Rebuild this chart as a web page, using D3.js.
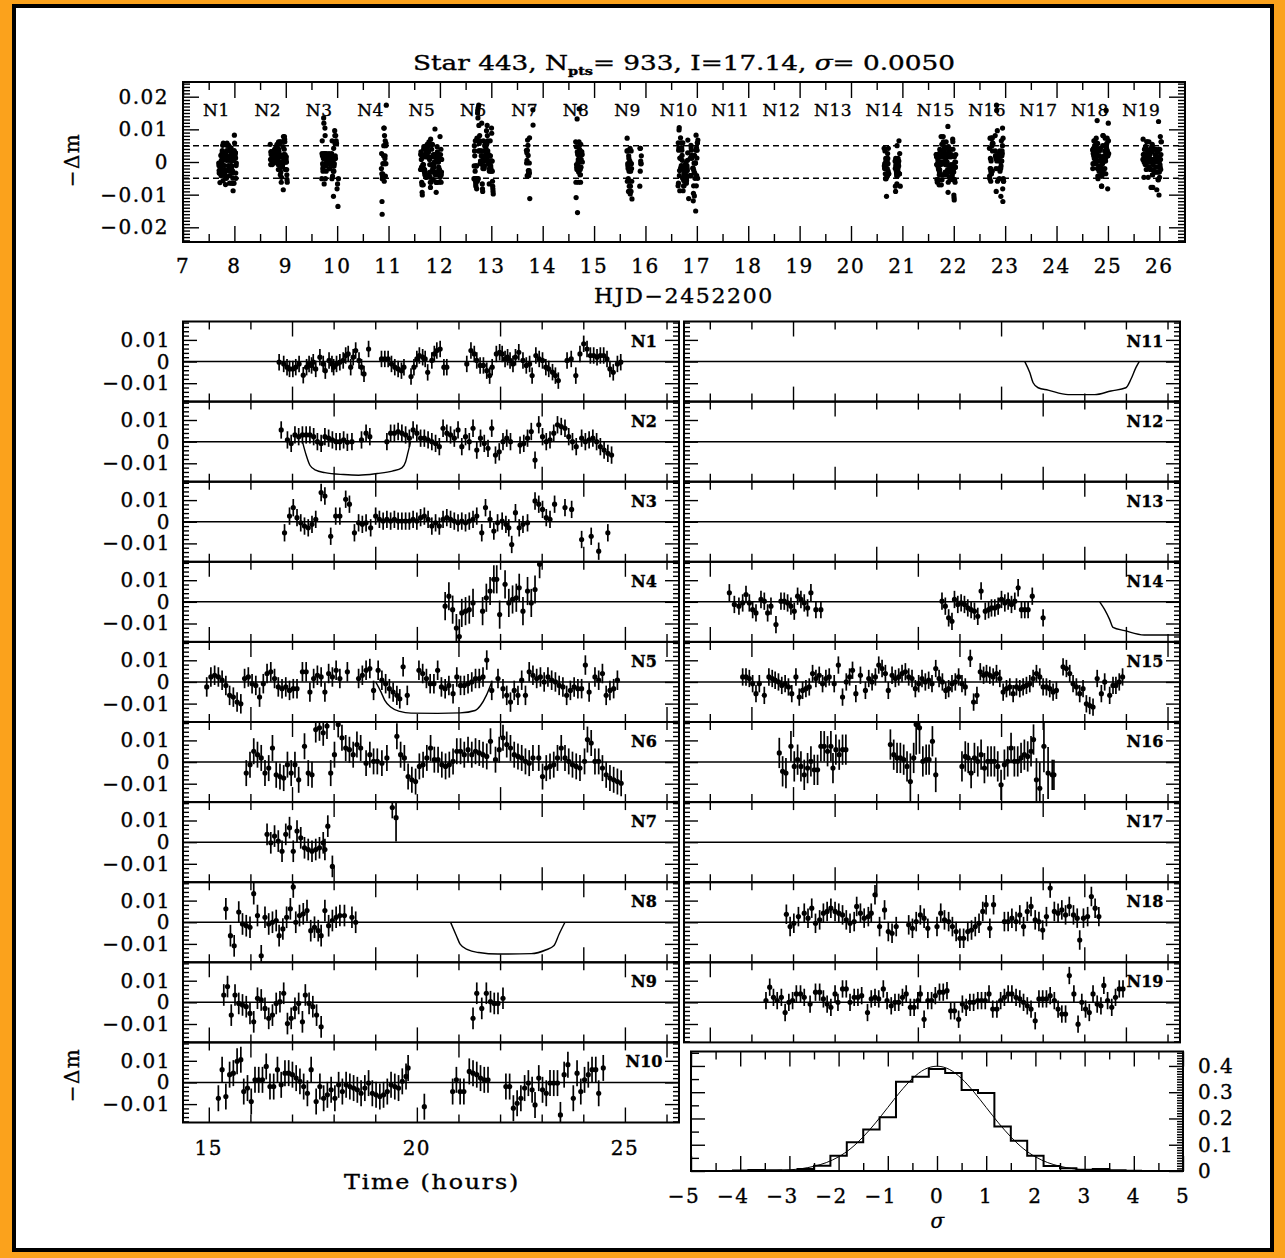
<!DOCTYPE html>
<html>
<head>
<meta charset="utf-8">
<script src="https://cdn.jsdelivr.net/npm/d3@7"></script>
<style>
  body { margin: 0; background: #fba21c; }
  svg { display: block; }
  text { font-family: "DejaVu Serif", serif; fill: #000; stroke: #000; stroke-width: 0.35px; }
</style>
</head>
<body>
<svg id="chart" width="1285" height="1258"></svg>
<script>
// header values
const starId = 443, nPts = 933, iMag = "17.14", sigmaMag = "0.0050";

// nights: label and integer day (HJD-2452200) of each night
const nightLabels = ["N1","N2","N3","N4","N5","N6","N7","N8","N9","N10","N11","N12","N13","N14","N15","N16","N17","N18","N19"];
const nightDays = [7,8,9,10,11,12,13,14,15,16,17,18,19,20,21,22,23,24,25];
// typical error bar half length per night (mmag)
const nightErr = [3.8,4,4,6.5,4.5,6,5,5,5,6,0,0,0,4,4,7,0,4.5,4];

// photometry: [time in hours, -dm in mmag, optional error in mmag]
const N1 = [[16.69,-0.3],[16.80,-1.1],[16.88,-2.6],[16.94,-3.4],[17.02,-3.4],[17.09,-2.6],[17.17,-1.1],[17.27,-6.3],[17.35,-2.6],[17.41,-1.1],[17.47,-1.8],[17.51,-0.3],[17.57,-3.4],[17.67,2.0],[17.75,-1.1],[17.80,-4.2],[17.89,0.5],[17.96,-1.1],[18.00,-2.6],[18.07,-1.1],[18.15,-0.3],[18.23,0.5],[18.29,2.8],[18.35,3.5],[18.41,-2.6],[18.47,2.0],[18.53,5.1],[18.61,0.5],[18.67,-2.6],[18.73,-5.7],[18.84,5.8],[19.15,1.2],[19.23,1.2],[19.31,1.2],[19.39,-1.1],[19.47,-2.6],[19.55,-3.4],[19.63,-4.2],[19.69,-2.6],[19.86,-6.9],[19.93,-2.6],[20.00,1.2],[20.06,2.8],[20.14,2.0],[20.20,1.2],[20.26,-5.0],[20.36,0.5],[20.42,3.5],[20.48,5.1],[20.56,5.8],[20.65,-2.6],[20.72,-2.6],[21.20,-1.1],[21.30,5.1],[21.38,3.5],[21.44,0.5],[21.52,-1.8],[21.60,-1.8],[21.68,-4.2],[21.75,-6.5],[21.81,-2.6],[21.91,3.5],[21.99,4.3],[22.05,3.5],[22.12,1.2],[22.18,2.0],[22.24,0.5],[22.31,-1.1],[22.37,2.0],[22.45,4.3],[22.55,0.5],[22.63,-1.8],[22.71,-1.1],[22.77,-6.5],[22.86,2.8],[22.94,1.2],[23.02,0.5],[23.10,-2.6],[23.17,-3.4],[23.26,-4.9],[23.33,-6.5],[23.40,-8.8],[23.61,0.5],[23.71,1.2],[23.82,-6.5],[23.92,3.5],[24.01,8.2],[24.09,5.8],[24.17,2.8],[24.25,2.8],[24.33,2.0],[24.41,2.8],[24.49,2.8],[24.57,1.2],[24.64,-3.4],[24.72,-5.0],[24.82,-1.1],[24.90,-0.3]];
const N2 = [[16.74,5.4],[16.89,0.8],[16.98,-0.8],[17.07,3.1],[17.16,2.3],[17.25,3.1],[17.34,3.1],[17.43,3.1],[17.52,2.3],[17.61,0],[17.70,-0.8],[17.79,2.3],[17.88,1.6],[17.97,0.8],[18.06,0],[18.15,0],[18.24,0.8],[18.33,-0.3],[18.44,0],[18.67,0.8],[18.78,3.9],[18.87,2.3],[19.28,0],[19.37,3.9],[19.46,3.9],[19.55,4.7],[19.64,3.9],[19.73,3.1],[19.82,1.6],[19.91,5.4],[20.00,3.9],[20.09,1.6],[20.18,1.6],[20.27,0.8],[20.36,0],[20.45,-0.8],[20.54,-2.3],[20.63,6.2],[20.72,3.9],[20.81,3.1],[20.90,1.6],[20.99,5.4],[21.08,-2.3],[21.17,2.3],[21.26,0],[21.35,6.2],[21.44,-3.9],[21.53,1.6],[21.62,-0.8],[21.71,-3.1],[21.80,6.2],[21.89,-6.2],[21.98,-4.7],[22.07,0],[22.16,1.6],[22.25,0],[22.48,-1.6],[22.57,-0.8],[22.66,1.6],[22.75,4.7],[22.84,-8.5],[22.93,7.8],[23.02,2.3],[23.11,0],[23.20,0.8],[23.29,3.9],[23.38,7.8],[23.47,7.0],[23.56,6.2],[23.65,2.3],[23.74,0],[23.83,-2.3],[23.96,1.6],[24.05,0],[24.14,0.8],[24.23,1.6],[24.32,0],[24.41,-2.3],[24.50,-3.9],[24.59,-5.4],[24.68,-6.2]];
const N3 = [[16.82,-5.1],[16.94,2.6],[17.03,6.5],[17.12,1.9],[17.21,-0.5],[17.30,-2.0],[17.39,-2.8],[17.48,-1.2],[17.57,1.1],[17.70,13.5],[17.79,11.9],[17.93,-6.7],[18.05,2.6],[18.15,2.6],[18.29,10.4],[18.38,8.1],[18.50,-5.1],[18.60,-0.5],[18.69,-1.2],[18.78,-0.5],[18.89,-2.8],[19.01,2.6],[19.10,1.1],[19.19,0.3],[19.28,1.1],[19.37,0.3],[19.46,1.1],[19.55,0.3],[19.64,0.3],[19.73,0.3],[19.82,0.3],[19.91,1.1],[20.00,0.3],[20.09,1.9],[20.18,2.6],[20.27,1.1],[20.36,-2.0],[20.45,-0.5],[20.54,-2.0],[20.63,1.1],[20.72,1.9],[20.81,1.1],[20.90,0.3],[20.99,-0.5],[21.08,0.3],[21.17,-0.5],[21.26,0.3],[21.35,1.1],[21.44,2.6],[21.56,-5.1],[21.65,6.5],[21.76,1.1],[21.85,-4.3],[21.94,-0.5],[22.05,0.3],[22.14,-1.2],[22.21,-2.8],[22.28,-10.5],[22.37,4.2],[22.46,-2.8],[22.55,-1.2],[22.66,-0.5],[22.84,9.6],[22.93,8.1],[23.02,5.7],[23.11,1.9],[23.20,1.1],[23.31,8.1],[23.56,6.5],[23.72,5.7],[23.96,-8.2],[24.19,-6.7],[24.37,-13.6],[24.59,-5.1]];
const N4 = [[20.68,-2.0],[20.77,2.6],[20.86,-3.6],[20.95,-12.1],[21.02,-16,8],[21.08,-5.1],[21.17,-4.3],[21.26,-3.6],[21.35,-0.5],[21.58,-4.3],[21.67,1.9],[21.76,5.0],[21.85,10.4],[21.92,10.4],[21.99,-5.9],[22.12,8.1],[22.21,-0.5],[22.30,1.1],[22.39,1.9],[22.46,6.5],[22.55,-4.3],[22.66,5.0],[22.75,-0.5],[22.84,5.7],[22.95,17.4]];
const N5 = [[14.95,-2.3],[15.05,2.3],[15.14,3.1],[15.23,2.3],[15.32,0.8],[15.41,-1.6],[15.50,-6.2],[15.59,-7.0],[15.68,-9.3],[15.77,-10.1],[15.86,1.6],[15.95,2.3],[16.04,-0.8],[16.13,-1.6],[16.22,-7.0],[16.31,-0.8],[16.40,3.9],[16.49,4.7],[16.58,1.6],[16.67,-2.3],[16.76,-3.1],[16.85,-2.3],[16.94,-3.9],[17.03,-3.1],[17.12,-3.1],[17.25,4.7],[17.34,4.7],[17.43,-4.7],[17.52,1.6],[17.61,3.1],[17.70,2.3],[17.79,-4.7],[17.88,3.9],[17.97,2.3],[18.06,5.4],[18.15,1.6],[18.33,4.7],[18.60,1.6],[18.69,3.1],[18.78,5.4],[18.87,6.2],[18.96,-3.9],[19.07,5.4],[19.16,0.8],[19.25,-0.8],[19.34,-3.1],[19.43,-4.7],[19.52,-6.2],[19.59,-7.8],[19.67,7.0],[19.77,-6.2],[20.05,5.4],[20.14,3.9],[20.23,1.6],[20.32,-0.8],[20.41,-0.8],[20.50,5.4],[20.59,-2.3],[20.68,-3.1],[20.77,-1.6],[20.87,-5.4],[20.96,2.3],[21.05,-1.6],[21.14,-1.6],[21.23,-0.8],[21.32,0],[21.41,1.6],[21.50,1.6],[21.59,2.3],[21.68,10.1],[21.80,-3.9],[21.95,1.6],[22.07,-3.1],[22.16,-6.2],[22.25,-9.3],[22.34,-3.9],[22.43,-6.2],[22.52,0.8],[22.61,-6.2],[22.70,4.7],[22.79,3.1],[22.88,1.6],[22.97,2.3],[23.06,0],[23.15,2.3],[23.24,0.8],[23.33,0],[23.42,-1.6],[23.51,-2.3],[23.60,-6.2],[23.69,-3.9],[23.78,-2.3],[23.87,-3.1],[23.96,-3.1],[24.05,7.8],[24.14,-4.7],[24.28,2.3],[24.37,0.8],[24.46,3.9],[24.55,-6.2],[24.64,-3.9],[24.73,-3.1],[24.82,0.8]];
const N6 = [[15.90,-5.1],[15.99,-1.2],[16.08,5.0],[16.17,3.4],[16.26,1.9],[16.35,-5.1],[16.44,-2.8],[16.53,6.5],[16.62,-5.9],[16.71,-6.7],[16.80,-7.4],[16.89,-1.2],[16.98,-5.1],[17.07,-1.2],[17.16,-8.2],[17.30,7.3],[17.39,-5.1],[17.48,-5.9],[17.57,15.0],[17.66,15.8],[17.75,13.5],[17.84,16.6],[17.93,-5.1],[18.02,3.4],[18.11,17.4],[18.20,11.2],[18.29,6.5],[18.38,5.7],[18.47,3.4],[18.56,8.1],[18.65,6.5],[18.78,-0.5],[18.87,3.4],[18.96,0.3],[19.05,0.3],[19.16,-0.5],[19.28,1.9],[19.52,11.9],[19.61,3.4],[19.70,1.9],[19.79,-6.7],[19.88,-8.2],[19.97,-9.0],[20.06,-2.0],[20.15,-1.2],[20.24,1.9],[20.33,6.5],[20.42,1.1],[20.51,1.1],[20.60,-1.2],[20.69,-2.0],[20.78,-1.2],[20.87,0.3],[20.96,5.0],[21.05,5.0],[21.14,3.4],[21.23,5.7],[21.32,3.4],[21.41,5.0],[21.50,4.2],[21.59,3.4],[21.68,2.6],[21.77,9.6],[21.89,1.1],[21.98,5.7],[22.07,11.2],[22.16,8.1],[22.25,6.5],[22.34,3.4],[22.43,2.6],[22.52,1.9],[22.61,0.3],[22.70,-0.5],[22.79,1.9],[22.93,1.9],[23.02,-6.7],[23.11,-2.8],[23.20,-2.0],[23.29,-1.2],[23.38,1.9],[23.47,6.5],[23.56,1.9],[23.65,0.3],[23.74,-1.2],[23.83,-2.0],[23.92,-2.8],[24.03,0.3],[24.10,10.4],[24.19,8.8],[24.28,0.3],[24.37,0.3],[24.46,-2.8],[24.55,-5.9],[24.64,-7.4],[24.73,-8.2],[24.82,-9.0],[24.91,-9.8]];
const N7 = [[16.40,3.6],[16.49,-0.3],[16.58,2.8],[16.67,0.5],[16.76,-4.2],[16.85,3.6],[16.94,6.7],[17.03,-4.2],[17.12,5.1],[17.21,2.0],[17.30,-2.6],[17.39,-3.4],[17.48,-4.2],[17.57,-3.4],[17.66,-2.6],[17.75,-0.3],[17.79,-3.4],[17.86,7.4],[17.97,-11.2],[19.41,16.0],[19.50,11.3,11]];
const N8 = [[15.41,6.2],[15.52,-6.2],[15.61,-10.9],[15.72,4.7],[15.81,-0.8],[15.90,-1.6],[15.99,-2.3],[16.08,13.2],[16.17,3.1],[16.26,-15.5],[16.35,2.3],[16.44,-0.8],[16.53,0],[16.62,0.8],[16.69,-6.2],[16.78,-3.1],[16.87,2.3],[16.96,6.2],[17.03,16.3],[17.09,0],[17.18,3.1],[17.27,3.9],[17.36,5.4],[17.45,-3.9],[17.54,-2.3],[17.63,-3.9],[17.70,-6.2],[17.79,5.4],[17.88,-1.6],[17.97,0.8],[18.06,2.3],[18.15,3.1],[18.26,3.1],[18.44,2.3],[18.53,0]];
const N9 = [[15.36,3.4],[15.45,7.3],[15.54,-5.9],[15.63,3.4],[15.72,-0.5],[15.81,-1.2],[15.90,-2.0],[15.99,-5.1],[16.08,-9.0],[16.17,1.9],[16.26,1.1],[16.35,-2.8],[16.44,-7.4],[16.53,-5.9],[16.62,-0.5],[16.71,0.3],[16.80,4.2],[16.89,-9.8],[16.98,-7.4],[17.07,-2.8],[17.16,-0.5],[17.25,-9.0],[17.32,3.4],[17.41,-0.5],[17.50,-2.0],[17.59,-5.9],[17.70,-11.3],[21.35,-7.4],[21.44,4.2],[21.56,-2.8],[21.67,4.2],[21.77,0.3],[21.86,-0.5],[21.95,-0.5],[22.07,1.9]];
const N10 = [[15.23,-7.3],[15.32,5.9],[15.41,-6.5],[15.50,3.6],[15.59,4.3],[15.68,9.8],[15.77,10.5],[15.84,-4.2],[15.93,-2.6],[16.02,-8.8],[16.11,1.2],[16.20,1.2],[16.29,1.2],[16.38,7.4],[16.47,-1.9],[16.56,-1.9],[16.65,5.9],[16.74,-1.1],[16.83,4.3],[16.92,4.3],[17.01,3.6],[17.10,2.0],[17.19,0.5],[17.28,-1.9],[17.37,-5.0],[17.46,5.9],[17.58,-8.8],[17.67,-1.9],[17.76,-7.3],[17.85,-5.7],[17.94,-3.4],[18.03,-7.3],[18.12,-1.1],[18.21,-4.2],[18.30,-1.1],[18.39,-1.9],[18.48,-2.6],[18.57,-3.4],[18.66,-5.0],[18.75,-2.6],[18.84,-0.3],[18.93,-5.0],[19.02,-5.7],[19.11,-6.5],[19.20,-5.7],[19.29,-4.2],[19.38,-1.1],[19.47,-1.9],[19.56,-2.6],[19.65,0.5],[19.74,2.8],[19.79,6.7],[20.18,-11.2],[20.86,-4.2],[20.95,1.2],[21.04,-4.2],[21.13,-4.2],[21.26,5.1],[21.35,4.3],[21.44,3.6],[21.53,2.0],[21.62,1.2],[21.71,1.2],[22.14,-1.9],[22.23,-1.9],[22.32,-11.9],[22.41,-9.6],[22.50,-7.3],[22.59,-2.6],[22.68,-0.3],[22.77,-3.4],[22.84,-10.4],[22.93,2.0],[23.02,-3.4],[23.11,-5.0],[23.20,-0.3],[23.29,-0.3],[23.38,-0.3],[23.45,-15.0],[23.54,3.6],[23.63,8.2],[23.76,-7.3],[23.85,4.3],[23.94,-4.2],[24.03,1.2],[24.12,3.6],[24.21,5.9],[24.30,5.9],[24.37,-5.0],[24.48,6.7]];
const N11 = [], N12 = [], N13 = [], N17 = [];
const N14 = [[15.47,4.2],[15.59,-1.2],[15.70,-2.0],[15.79,-0.5],[15.87,3.4],[15.95,-0.5],[16.03,-3.6],[16.11,-5.1],[16.23,1.1],[16.31,0.3],[16.39,-5.1],[16.47,-2.0],[16.59,-10.5],[16.71,0.3],[16.79,0.3],[16.87,-0.5],[16.95,-2.0],[17.03,-4.3],[17.11,2.6],[17.19,1.1],[17.27,-0.5],[17.35,-2.8],[17.43,4.2],[17.55,-3.6],[17.67,-3.6],[20.58,0.3],[20.66,-2.0],[20.74,-7.4],[20.82,-9.0],[20.88,1.1],[20.96,-1.2],[21.04,-0.5],[21.12,-1.2],[21.20,-2.8],[21.28,-3.6],[21.36,-4.3],[21.44,-6.7],[21.52,5.0],[21.62,-4.3],[21.70,-3.6],[21.77,-2.8],[21.85,-2.8],[21.93,-2.0],[22.01,1.1],[22.09,-0.5],[22.17,0.3],[22.25,-1.2],[22.33,0.3],[22.41,6.5],[22.49,-3.6],[22.57,-3.6],[22.65,-3.6],[22.75,2.6],[23.01,-7.4]];
const N15 = [[15.79,2.3],[15.87,2.3],[15.95,1.6],[16.03,-0.8],[16.11,-5.4],[16.19,-0.8],[16.31,-6.2],[16.42,2.3],[16.50,1.6],[16.57,0.8],[16.65,0],[16.73,-1.6],[16.81,-0.8],[16.89,-2.3],[16.97,-5.4],[17.07,2.3],[17.15,-7.0],[17.23,-3.9],[17.31,-3.1],[17.39,-2.3],[17.47,3.9],[17.55,1.6],[17.63,3.1],[17.71,-0.8],[17.79,1.6],[17.87,2.3],[17.99,-0.8],[18.09,7.8],[18.19,-7.0],[18.28,0],[18.36,2.3],[18.43,5.4],[18.51,-5.4],[18.62,3.1],[18.74,-3.9],[18.82,1.6],[18.90,0],[18.98,2.3],[19.06,7.8],[19.14,6.2],[19.22,3.9],[19.29,-3.9],[19.38,3.1],[19.46,1.6],[19.54,2.3],[19.62,3.9],[19.70,4.7],[19.78,2.3],[19.86,1.6],[19.94,-3.1],[20.02,-0.8],[20.10,1.6],[20.18,0],[20.26,0.8],[20.34,-0.8],[20.43,6.2],[20.51,1.6],[20.59,0],[20.67,-3.9],[20.74,-3.1],[20.82,-0.8],[20.90,0],[20.98,2.3],[21.06,-0.8],[21.14,-2.3],[21.26,10.9],[21.34,-9.3],[21.42,-6.2],[21.50,4.7],[21.58,3.1],[21.65,3.9],[21.73,3.1],[21.81,2.3],[21.89,3.9],[21.97,1.6],[22.05,-4.7],[22.13,-3.1],[22.21,-2.3],[22.29,-5.4],[22.37,-2.3],[22.45,-3.1],[22.53,-2.3],[22.61,-1.6],[22.69,-0.8],[22.77,1.6],[22.85,3.9],[22.93,2.3],[23.01,-2.3],[23.09,-2.3],[23.17,-3.1],[23.25,-4.7],[23.33,-3.9],[23.49,7.0],[23.57,6.2],[23.65,3.9],[23.73,-0.8],[23.81,-2.3],[23.89,-5.4],[23.97,-3.1],[24.05,-10.1],[24.13,-10.9],[24.21,-11.6],[24.31,1.6],[24.41,-5.4],[24.49,0],[24.61,-6.2],[24.69,-1.6],[24.76,-1.6],[24.84,0],[24.92,2.3]];
const N16 = [[16.67,4.2],[16.75,-4.3],[16.83,-5.1],[16.95,7.3],[17.03,-2.0],[17.11,1.1],[17.19,-2.0],[17.27,-5.9],[17.35,-2.8],[17.43,0.3],[17.51,-3.6],[17.59,-3.6],[17.67,7.3],[17.75,7.3],[17.83,5.0],[17.91,7.3],[17.96,-2.8],[18.03,5.7],[18.11,3.4],[18.19,5.7],[18.27,5.7],[19.34,8.1],[19.42,3.4],[19.50,1.9],[19.58,1.9],[19.66,1.1],[19.74,-2.0],[19.82,-9.0,13],[19.90,1.9],[19.96,17.4,14],[20.04,15.8,12],[20.12,0.3],[20.20,1.1],[20.27,1.1],[20.35,9.6],[20.43,-5.9,8],[21.06,-2.0],[21.14,2.6],[21.21,1.9],[21.28,-5.1],[21.36,1.9],[21.44,0.3],[21.52,3.4],[21.60,-2.8],[21.68,0.3],[21.76,0.3],[21.84,0.3],[21.92,-2.0],[22.00,-10.5],[22.08,-1.2],[22.16,0.3],[22.24,6.5],[22.32,0.3],[22.40,0.3],[22.48,1.9],[22.56,3.4],[22.64,2.6],[22.72,5.0],[22.78,10.4],[22.85,-8.2,10],[22.93,-12.1,12],[23.03,7.3,12],[23.13,-5.1,12],[23.23,-5.9],[23.27,-5.9]];
const N18 = [[16.84,3.7],[16.93,-2.0],[17.02,-0.5],[17.13,2.6],[17.27,4.2],[17.36,1.9],[17.45,6.5],[17.54,-0.5],[17.64,1.1],[17.73,4.2],[17.82,5.0],[17.91,6.5],[18.01,5.0],[18.10,4.2],[18.19,3.4],[18.28,1.1],[18.37,-0.5],[18.47,0.3],[18.53,7.3],[18.62,4.2],[18.71,1.9],[18.81,2.6],[18.88,4.2],[18.97,12.7],[19.08,-2.0],[19.20,5.7],[19.29,-4.3],[19.38,-5.1],[19.48,-2.0],[19.78,-1.2],[19.87,-2.8],[19.96,0.3],[20.06,3.4],[20.15,1.9],[20.24,-2.8],[20.46,-2.0],[20.55,4.2],[20.64,1.1],[20.74,0.3],[20.83,-2.0],[20.92,-4.3],[21.01,-7.4],[21.10,-7.4],[21.20,-4.3],[21.29,-3.6],[21.38,-2.0],[21.47,-0.5],[21.56,5.0],[21.64,8.1],[21.73,-2.8],[21.82,8.1],[22.08,0.3],[22.17,0.3],[22.26,1.9],[22.36,0.3],[22.45,3.4],[22.54,-2.0],[22.63,5.0],[22.72,7.3],[22.82,1.1],[22.91,0.3],[23.00,-3.6],[23.09,2.6],[23.18,15.8],[23.28,5.0],[23.37,4.2],[23.46,5.7],[23.55,3.4],[23.64,7.3],[23.74,3.4],[23.83,1.9],[23.89,-8.2],[23.98,1.9],[24.08,2.6],[24.17,11.9],[24.26,6.5],[24.35,2.6]];
const N19 = [[16.35,0.8],[16.44,7.0],[16.53,2.3],[16.62,0.8],[16.72,2.3],[16.81,-4.7],[16.90,0],[16.99,0.8],[17.08,3.9],[17.18,3.9],[17.27,2.3],[17.41,-0.8],[17.54,4.7],[17.64,4.7],[17.73,1.6],[17.82,-0.8],[17.91,-2.3],[18.01,3.9],[18.08,0],[18.19,6.2],[18.28,6.2],[18.37,0],[18.47,2.3],[18.56,2.3],[18.65,3.1],[18.79,-4.7],[18.88,1.6],[18.97,2.3],[19.06,1.6],[19.17,6.2],[19.26,0.8],[19.36,-1.6],[19.45,0],[19.54,0],[19.63,2.3],[19.72,3.9],[19.82,-2.3],[19.91,-2.3],[20.00,0.8],[20.06,3.9],[20.15,-7.8],[20.24,0.8],[20.33,0.8],[20.42,3.1],[20.52,4.7],[20.61,4.7],[20.70,5.4],[20.79,-3.9],[20.88,-3.9],[20.98,-7.8],[21.07,-0.8],[21.16,-2.3],[21.25,0],[21.34,0],[21.44,0.8],[21.53,0.8],[21.62,0.8],[21.71,3.9],[21.80,-3.1],[21.90,-3.1],[21.99,0.8],[22.08,2.3],[22.17,3.9],[22.26,3.9],[22.36,2.3],[22.45,1.6],[22.54,0],[22.63,-1.6],[22.72,-3.1],[22.82,-8.5],[22.91,1.6],[23.00,1.6],[23.09,1.6],[23.18,3.1],[23.28,0.8],[23.37,-3.1],[23.46,-5.4],[23.55,-5.4],[23.64,12.4],[23.75,3.9],[23.85,-10.1],[23.94,0],[24.03,-3.1],[24.12,-4.7],[24.21,3.9],[24.31,-0.8],[24.40,-1.6],[24.47,7.8],[24.56,0.8],[24.66,-2.3],[24.75,2.3],[24.84,6.2],[24.93,6.2]];
const nights = [N1,N2,N3,N4,N5,N6,N7,N8,N9,N10,N11,N12,N13,N14,N15,N16,N17,N18,N19];

// transit model curves drawn in some nights: [hour, mmag]
const modelN2 = [[17.25,0],[17.34,-6.2],[17.43,-10.9],[17.57,-13.2],[17.79,-14.3],[18.24,-15.2],[18.60,-15.5],[19.05,-14.7],[19.41,-13.6],[19.64,-12.1],[19.73,-9.3],[19.79,-4.7],[19.85,0]];
const modelN5 = [[19.01,0],[19.14,-4.7],[19.23,-8.5],[19.37,-11.6],[19.59,-13.6],[19.86,-14.4],[20.50,-14.5],[21.04,-14.3],[21.40,-13.2],[21.53,-10.9],[21.67,-6.2],[21.80,0]];
const modelN8 = [[20.81,0],[20.95,-6.2],[21.04,-10.1],[21.22,-12.7],[21.49,-14.0],[21.95,-14.7],[22.75,-14.5],[23.11,-12.7],[23.29,-10.9],[23.42,-5.4],[23.56,0]];
const modelN11 = [[22.57,0],[22.69,-5.1],[22.77,-9.8],[22.89,-12.1],[23.13,-13.2],[23.61,-15.3],[24.25,-15.3],[24.64,-13.6],[25.00,-12.1],[25.12,-8.2],[25.24,-2.8],[25.32,0]];
const modelN14 = [[24.37,0],[24.49,-3.6],[24.61,-8.2],[24.69,-11.8],[24.97,-13.3],[25.44,-15.3],[26.30,-15.3]];
const models = { N2: modelN2, N5: modelN5, N8: modelN8, N11: modelN11, N14: modelN14 };

// residual histogram (sigma units, bin width 1/3) and unit gaussian
const histCenters = [-4,-3.667,-3.333,-3,-2.667,-2.333,-2,-1.667,-1.333,-1,-0.667,-0.333,0,0.333,0.667,1,1.333,1.667,2,2.333,2.667,3,3.333,3.667,4];
const histValues = [0.002,0.004,0.003,0.002,0.008,0.02,0.058,0.109,0.158,0.205,0.34,0.359,0.388,0.373,0.308,0.297,0.169,0.115,0.058,0.019,0.01,0.005,0.008,0.003,0.001];
const gaussX = [-5,-4,-3.5,-3,-2.75,-2.5,-2.25,-2,-1.75,-1.5,-1.25,-1,-0.75,-0.5,-0.25,0,0.25,0.5,0.75,1,1.25,1.5,1.75,2,2.25,2.5,2.75,3,3.5,4,5];
const gaussY = [0,0.0001,0.0009,0.0044,0.009,0.018,0.032,0.054,0.086,0.13,0.183,0.242,0.301,0.352,0.387,0.399,0.387,0.352,0.301,0.242,0.183,0.13,0.086,0.054,0.032,0.018,0.009,0.0044,0.0009,0.0001,0];

const svg = d3.select("#chart");

// page frame
svg.append("rect").attr("width", 1285).attr("height", 1258).attr("fill", "#fba21c");
svg.append("rect").attr("x", 12).attr("y", 4).attr("width", 1262).attr("height", 1248).attr("fill", "#000");
svg.append("rect").attr("x", 16).attr("y", 8).attr("width", 1254).attr("height", 1240).attr("fill", "#fff");

const fmt2 = v => Math.abs(v) < 1e-9 ? "0" : d3.format(".2f")(v);

// draw a set of ticks with a d3 axis, no labels and no domain line
function ticks(g, axis, values, len, tx, ty) {
  const a = g.append("g").attr("transform", `translate(${tx},${ty})`)
    .call(axis.tickValues(values).tickSize(len).tickFormat(""));
  a.select(".domain").remove();
  a.selectAll("line").attr("stroke", "#000").attr("stroke-width", 1.4);
}

function label(x, y, str, anchor, size) {
  return svg.append("text").attr("x", x).attr("y", y).attr("text-anchor", anchor || "middle")
    .attr("font-size", size || 20).attr("letter-spacing", 1.5).text(str);
}

// ---------- top panel: all nights vs HJD ----------
const xTop = d3.scaleLinear().domain([7, 26.5]).range([183, 1185]);
const yTop = d3.scaleLinear().domain([-0.0245, 0.0245]).range([242, 82]);
const topG = svg.append("g");

[-0.005, 0.005].forEach(v => {
  topG.append("line").attr("x1", 183).attr("x2", 1185).attr("y1", yTop(v)).attr("y2", yTop(v))
    .attr("stroke", "#000").attr("stroke-width", 1.5).attr("stroke-dasharray", "6,4");
});

nights.forEach((pts, i) => {
  topG.selectAll(null).data(pts).join("circle")
    .attr("cx", d => xTop(nightDays[i] + d[0] / 24))
    .attr("cy", d => yTop(d[1] / 1000))
    .attr("r", 2.6).attr("fill", "#000");
});

topG.append("rect").attr("x", 183).attr("y", 82).attr("width", 1002).attr("height", 160)
  .attr("fill", "none").attr("stroke", "#000").attr("stroke-width", 2);

const dayMajor = d3.range(7, 27), dayMinor = d3.range(7.5, 26.5, 1);
ticks(topG, d3.axisBottom(xTop), dayMajor, 16, 0, 82);
ticks(topG, d3.axisBottom(xTop), dayMinor, 8, 0, 82);
ticks(topG, d3.axisTop(xTop), dayMajor, 16, 0, 242);
ticks(topG, d3.axisTop(xTop), dayMinor, 8, 0, 242);
const topMajor = [-0.02, -0.01, 0, 0.01, 0.02];
const topMinor = d3.range(-24, 25).filter(k => k % 10 !== 0).map(k => k / 1000);
ticks(topG, d3.axisRight(yTop), topMajor, 16, 183, 0);
ticks(topG, d3.axisRight(yTop), topMinor, 7, 183, 0);
ticks(topG, d3.axisLeft(yTop), topMajor, 16, 1185, 0);
ticks(topG, d3.axisLeft(yTop), topMinor, 7, 1185, 0);

topMajor.forEach(v => label(169, yTop(v) + 7, fmt2(v), "end"));
dayMajor.forEach(v => label(xTop(v), 273, String(v)));
nightLabels.forEach((n, i) => label(xTop(nightDays[i] + 0.65), 116, n, "middle", 17).attr("letter-spacing", 0.5));

label(684, 303, "HJD−2452200").attr("textLength", 180).attr("lengthAdjust", "spacingAndGlyphs");

const titleText = svg.append("text").attr("x", 684).attr("y", 70).attr("text-anchor", "middle")
  .attr("font-size", 20).attr("textLength", 542).attr("lengthAdjust", "spacingAndGlyphs");
titleText.append("tspan").text(`Star ${starId}, N`);
titleText.append("tspan").attr("font-size", 11).attr("font-weight", "bold").attr("dy", 5).text("pts");
titleText.append("tspan").attr("dy", -5).text(`= ${nPts}, I=${iMag}, `);
titleText.append("tspan").attr("font-style", "italic").text("σ");
titleText.append("tspan").text(`= ${sigmaMag}`);

svg.append("text").attr("transform", "translate(79,160) rotate(-90)").attr("text-anchor", "middle")
  .attr("font-size", 20).attr("letter-spacing", 1.5).text("−Δm");

// ---------- nightly panels ----------
const colX = [183, 684], panelW = 496, rowTop = 321.5, rowH = 80.1;
const xH = d3.scaleLinear().domain([14.38, 26.3]).range([0, panelW]);
const yP = d3.scaleLinear().domain([-0.0185, 0.0185]).range([rowH, 0]).clamp(true);
const hours = d3.range(15, 27);
const yMajor = [-0.01, 0, 0.01];
const yMinor = d3.range(-18, 19, 2).filter(k => k % 10 !== 0).map(k => k / 1000);
const mline = d3.line().x(d => xH(d[0])).y(d => yP(d[1] / 1000)).curve(d3.curveMonotoneX);

nights.forEach((pts, i) => {
  const col = i < 10 ? 0 : 1, row = col ? i - 10 : i;
  const g = svg.append("g").attr("transform", `translate(${colX[col]},${rowTop + row * rowH})`);
  const lastRow = (col === 0 && row === 9) || (col === 1 && row === 8);

  g.append("line").attr("x1", 0).attr("x2", panelW).attr("y1", yP(0)).attr("y2", yP(0))
    .attr("stroke", "#000").attr("stroke-width", 1.5);

  const m = models[nightLabels[i]];
  if (m) g.append("path").attr("d", mline(m)).attr("fill", "none").attr("stroke", "#000").attr("stroke-width", 1.4);

  const e = nightErr[i];
  g.selectAll(null).data(pts).join("line")
    .attr("x1", d => xH(d[0])).attr("x2", d => xH(d[0]))
    .attr("y1", d => yP((d[1] - (d[2] || e)) / 1000))
    .attr("y2", d => yP((d[1] + (d[2] || e)) / 1000))
    .attr("stroke", "#000").attr("stroke-width", 1.7);
  g.selectAll(null).data(pts).join("circle")
    .attr("cx", d => xH(d[0])).attr("cy", d => yP(d[1] / 1000))
    .attr("r", 2.6).attr("fill", "#000");

  g.append("rect").attr("width", panelW).attr("height", rowH)
    .attr("fill", "none").attr("stroke", "#000").attr("stroke-width", 2);

  // major hour ticks drift by one hour per night
  const isMajor = h => ((h - i - 2) % 5 + 5) % 5 === 0;
  const maj = hours.filter(isMajor), min = hours.filter(h => !isMajor(h));
  ticks(g, d3.axisBottom(xH), maj, 15, 0, 0);
  ticks(g, d3.axisBottom(xH), min, 8, 0, 0);
  const bMaj = lastRow ? [15, 20, 25] : maj;
  ticks(g, d3.axisTop(xH), bMaj, 15, 0, rowH);
  ticks(g, d3.axisTop(xH), hours.filter(h => !bMaj.includes(h)), 8, 0, rowH);
  ticks(g, d3.axisRight(yP), yMajor, 14, 0, 0);
  ticks(g, d3.axisRight(yP), yMinor, 6, 0, 0);
  ticks(g, d3.axisLeft(yP), yMajor, 14, panelW, 0);
  ticks(g, d3.axisLeft(yP), yMinor, 6, panelW, 0);

  g.append("text").attr("x", 461).attr("y", 25).attr("text-anchor", "middle")
    .attr("font-size", 16).attr("font-weight", "bold").text(nightLabels[i]);

  if (col === 0) {
    yMajor.slice().reverse().forEach(v => {
      g.append("text").attr("x", -12).attr("y", yP(v) + 7).attr("text-anchor", "end")
        .attr("font-size", 20).attr("letter-spacing", 1.5).text(fmt2(v));
    });
  }
  if (col === 0 && lastRow) {
    [15, 20, 25].forEach(h => {
      g.append("text").attr("x", xH(h)).attr("y", rowH + 33).attr("text-anchor", "middle")
        .attr("font-size", 20).attr("letter-spacing", 1.5).text(h);
    });
  }
});

label(432, 1189, "Time (hours)").attr("textLength", 176).attr("lengthAdjust", "spacingAndGlyphs");
svg.append("text").attr("transform", "translate(79,1075) rotate(-90)").attr("text-anchor", "middle")
  .attr("font-size", 20).attr("letter-spacing", 1.5).text("−Δm");

// ---------- histogram of residuals ----------
const xS = d3.scaleLinear().domain([-5, 5]).range([691, 1183]);
const yS = d3.scaleLinear().domain([0, 0.455]).range([1171, 1051.5]);
const hist = svg.append("g");
const binW = 1 / 3;
const steps = histCenters.map((c, i) => [c - binW / 2, histValues[i]]);
steps.push([histCenters[histCenters.length - 1] + binW / 2, histValues[histValues.length - 1]]);
hist.append("path")
  .attr("d", d3.line().x(d => xS(d[0])).y(d => yS(d[1])).curve(d3.curveStepAfter)(steps))
  .attr("fill", "none").attr("stroke", "#000").attr("stroke-width", 2);
hist.append("path")
  .attr("d", d3.line().x((d, i) => xS(gaussX[i])).y(d => yS(d)).curve(d3.curveMonotoneX)(gaussY))
  .attr("fill", "none").attr("stroke", "#000").attr("stroke-width", 1);
hist.append("rect").attr("x", 691).attr("y", 1051.5).attr("width", 492).attr("height", 119.5)
  .attr("fill", "none").attr("stroke", "#000").attr("stroke-width", 2);

const sMajor = d3.range(-5, 6), sMinor = d3.range(-4.5, 5, 1);
ticks(hist, d3.axisBottom(xS), sMajor, 15, 0, 1051.5);
ticks(hist, d3.axisBottom(xS), sMinor, 8, 0, 1051.5);
ticks(hist, d3.axisTop(xS), sMajor, 15, 0, 1171);
ticks(hist, d3.axisTop(xS), sMinor, 8, 0, 1171);
const hMajor = [0, 0.1, 0.2, 0.3, 0.4];
ticks(hist, d3.axisRight(yS), hMajor, 14, 691, 0);
ticks(hist, d3.axisRight(yS), [0.05, 0.15, 0.25, 0.35, 0.45], 8, 691, 0);
ticks(hist, d3.axisLeft(yS), hMajor, 14, 1183, 0);
ticks(hist, d3.axisLeft(yS), d3.range(1, 46).filter(k => k % 10 !== 0).map(k => k / 100), 6, 1183, 0);

sMajor.forEach(v => label(xS(v) - (v < 0 ? 7 : 0), 1203, d3.format("d")(v)));
hMajor.forEach(v => label(1198, yS(v) + 7, v === 0 ? "0" : d3.format(".1f")(v), "start"));
label(938, 1228, "σ").attr("font-style", "italic");
</script>
</body>
</html>
